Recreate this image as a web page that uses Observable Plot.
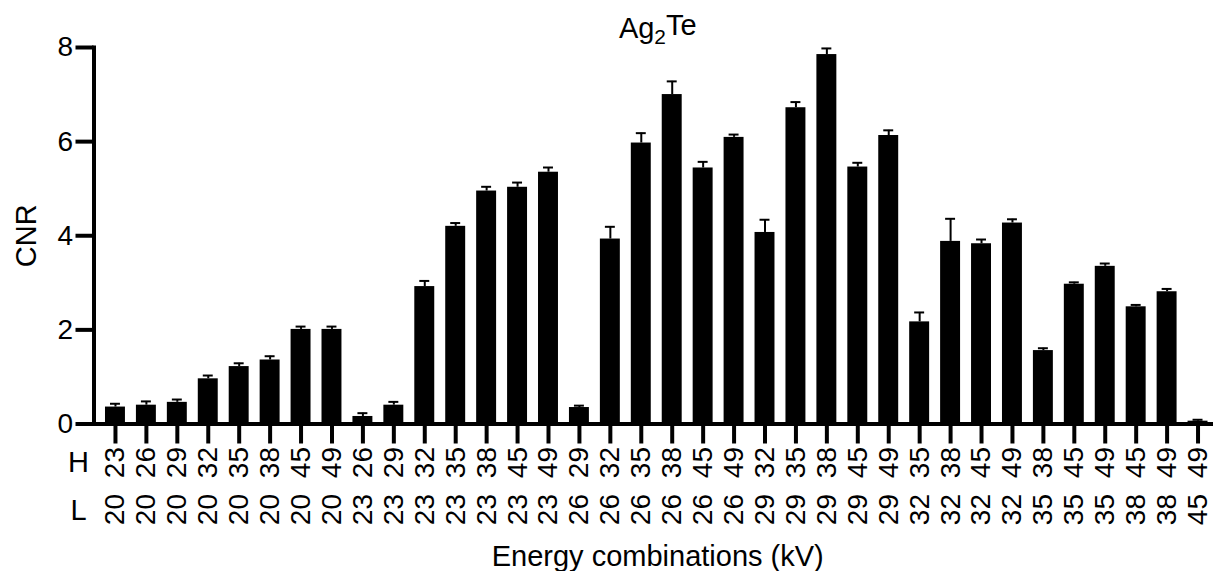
<!DOCTYPE html>
<html>
<head>
<meta charset="utf-8">
<script src="https://cdn.jsdelivr.net/npm/d3@7"></script>
<script src="https://cdn.jsdelivr.net/npm/@observablehq/plot@0.6"></script>
<style>
  html, body { margin: 0; padding: 0; background: #fff; }
  #chart svg { display: block; }
</style>
</head>
<body>
<div id="chart"></div>
<script>
// High and low energies (kV) of each combination
const highKV = [23,26,29,32,35,38,45,49, 26,29,32,35,38,45,49, 29,32,35,38,45,49, 32,35,38,45,49, 35,38,45,49, 38,45,49, 45,49, 49];
const lowKV  = [20,20,20,20,20,20,20,20, 23,23,23,23,23,23,23, 26,26,26,26,26,26, 29,29,29,29,29, 32,32,32,32, 35,35,35, 38,38, 45];
// CNR mean and upper error (SD)
const cnr = [0.36,0.40,0.46,0.96,1.22,1.36,2.01,2.01, 0.16,0.40,2.92,4.20,4.95,5.03,5.35, 0.35,3.93,5.97,7.00,5.44,6.09, 4.07,6.72,7.85,5.46,6.13, 2.17,3.88,3.83,4.27, 1.56,2.97,3.35, 2.49,2.81, 0.06];
const err = [0.07,0.08,0.06,0.07,0.07,0.08,0.06,0.06, 0.07,0.07,0.12,0.07,0.09,0.10,0.10, 0.04,0.26,0.21,0.28,0.13,0.06, 0.27,0.12,0.13,0.09,0.11, 0.20,0.48,0.09,0.08, 0.05,0.04,0.06, 0.04,0.06, 0.03];
const yTicks = [0, 2, 4, 6, 8];
const rowLabels = ["H", "L"];
const title = "Ag2Te";
const xTitle = "Energy combinations (kV)";
const yTitle = "CNR";

const data = highKV.map((h, i) => ({key: `${h}-${lowKV[i]}`, H: String(h), L: String(lowKV[i]), cnr: cnr[i], top: cnr[i] + err[i]}));

const font = "'Liberation Sans', Arial, Helvetica, sans-serif";

const plot = Plot.plot({
  width: 1213,
  height: 571,
  marginTop: 47,
  marginBottom: 147.5,
  marginLeft: 93.5,
  marginRight: 0,
  style: {fontFamily: font, fontSize: "28px", color: "black", background: "white"},
  x: {domain: data.map(d => d.key), range: [99.5, 1213], paddingInner: 0.355, paddingOuter: 0.1775},
  y: {domain: [0, 8]},
  marks: [
    Plot.barY(data, {x: "key", y: "cnr", fill: "black"}),
    Plot.ruleX(data, {x: "key", y1: "cnr", y2: "top", stroke: "black", strokeWidth: 2}),
    Plot.tickY(data, {x: "key", y: "top", stroke: "black", strokeWidth: 2, insetLeft: 5, insetRight: 5}),
    Plot.ruleY([0], {stroke: "black", strokeWidth: 4}),
    Plot.frame({anchor: "left", stroke: "black", strokeWidth: 4}),
    Plot.axisY({ticks: yTicks, tickSize: 18, tickPadding: 3, strokeWidth: 4, fontSize: 28, label: null, tickFormat: d => String(d)}),
    Plot.axisX({tickSize: 20, strokeWidth: 4, tickFormat: () => "", label: null}),
    Plot.text(data, {x: "key", text: "H", frameAnchor: "bottom", dy: 23, rotate: -90, textAnchor: "end", lineAnchor: "middle", fontSize: 28}),
    Plot.text(data, {x: "key", text: "L", frameAnchor: "bottom", dy: 70, rotate: -90, textAnchor: "end", lineAnchor: "middle", fontSize: 28}),
    Plot.text([rowLabels[0]], {text: d => d, frameAnchor: "bottom-left", dx: -15.5, dy: 38.5, textAnchor: "middle", lineAnchor: "middle", fontSize: 29}),
    Plot.text([rowLabels[1]], {text: d => d, frameAnchor: "bottom-left", dx: -15.5, dy: 86.5, textAnchor: "middle", lineAnchor: "middle", fontSize: 29}),
    Plot.text([xTitle], {text: d => d, frameAnchor: "bottom", dx: 4, dy: 141.5, lineAnchor: "bottom", fontSize: 29}),
    Plot.text([yTitle], {text: d => d, frameAnchor: "left", dx: -67.5, rotate: -90, textAnchor: "middle", lineAnchor: "middle", fontSize: 29}),
    Plot.text([title], {text: d => d, frameAnchor: "top", dx: 4, dy: -10, lineAnchor: "bottom", fontSize: 29, className: "chart-title"})
  ]
});

document.getElementById("chart").appendChild(plot);

// Render the "2" in Ag2Te as a subscript
d3.select(plot).selectAll("g.chart-title text").each(function() {
  const t = d3.select(this);
  const s = t.text();
  const m = s.match(/^(\D+)(\d+)(.*)$/);
  if (!m) return;
  t.text(null);
  t.append("tspan").text(m[1]);
  t.append("tspan").attr("dy", "0.3em").attr("font-size", "0.72em").text(m[2]);
  t.append("tspan").attr("dy", "-0.3em").text(m[3]);
});
</script>
</body>
</html>
